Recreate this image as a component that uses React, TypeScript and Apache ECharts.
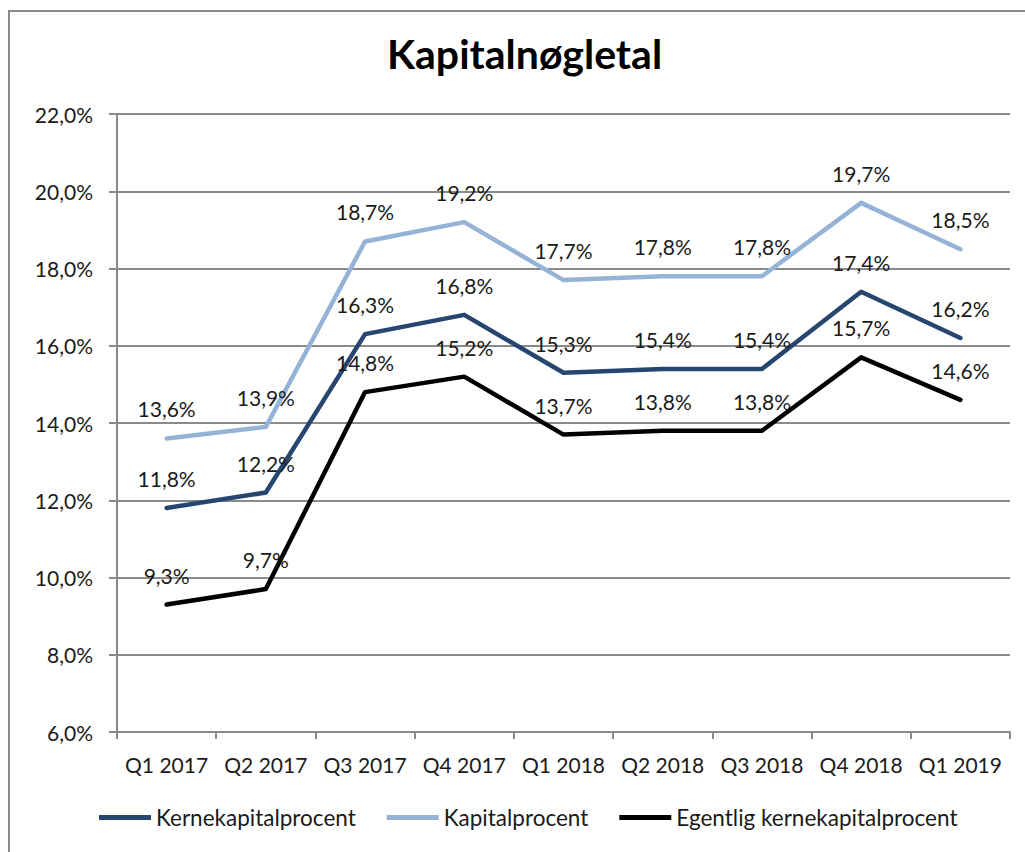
import React, { useEffect, useRef } from "react";
import * as echarts from "echarts";

const title = "Kapitalnøgletal";
const categories = ["Q1 2017", "Q2 2017", "Q3 2017", "Q4 2017", "Q1 2018", "Q2 2018", "Q3 2018", "Q4 2018", "Q1 2019"];
const kernekapital = [11.8, 12.2, 16.3, 16.8, 15.3, 15.4, 15.4, 17.4, 16.2];
const kapital = [13.6, 13.9, 18.7, 19.2, 17.7, 17.8, 17.8, 19.7, 18.5];
const egentlig = [9.3, 9.7, 14.8, 15.2, 13.7, 13.8, 13.8, 15.7, 14.6];
const seriesNames = ["Kernekapitalprocent", "Kapitalprocent", "Egentlig kernekapitalprocent"];
const seriesColors = ["#264670", "#95b3d7", "#000000"];
const yMin = 6;
const yMax = 22;
const yStep = 2;

const FONT = "Lato";
const fmt = (v: number) => v.toFixed(1).replace(".", ",") + "%";

export default function App() {
  const ref = useRef<HTMLDivElement>(null);
  useEffect(() => {
    if (!ref.current) return;
    const chart = echarts.init(ref.current, null, { renderer: "svg" });
    const datasets = [kernekapital, kapital, egentlig];
    chart.setOption({
      animation: false,
      backgroundColor: "#ffffff",
      textStyle: { fontFamily: FONT },
      title: {
        text: title,
        left: 387,
        top: 33,
        padding: 0,
        textStyle: { fontFamily: FONT, fontWeight: "bold", fontSize: 41, color: "#000" },
      },
      graphic: [
        {
          type: "rect",
          shape: { x: 9, y: 11, width: 1100, height: 900 },
          style: { fill: "none", stroke: "#8a8a8a", lineWidth: 2 },
          silent: true,
        },
      ],
      legend: {
        left: 99,
        top: 806,
        padding: 0,
        itemWidth: 52,
        itemHeight: 5,
        itemGap: 31,
        icon: "rect",
        textStyle: { fontFamily: FONT, fontSize: 22.5, color: "#1a1a1a" },
        data: seriesNames,
      },
      grid: { left: 117, right: 15, top: 114, bottom: 120, containLabel: false },
      xAxis: {
        type: "category",
        data: categories,
        boundaryGap: true,
        axisLine: { lineStyle: { color: "#8a8a8a", width: 2 } },
        axisTick: { show: true, length: 7, lineStyle: { color: "#8a8a8a", width: 2 } },
        axisLabel: { fontFamily: FONT, fontSize: 21, color: "#1a1a1a", margin: 22, interval: 0 },
      },
      yAxis: {
        type: "value",
        min: yMin,
        max: yMax,
        interval: yStep,
        axisLine: { show: true, lineStyle: { color: "#8a8a8a", width: 2 } },
        axisTick: { show: true, length: 8, lineStyle: { color: "#8a8a8a", width: 2 } },
        splitLine: { lineStyle: { color: "#8a8a8a", width: 2 } },
        axisLabel: { fontFamily: FONT, fontSize: 21, color: "#1a1a1a", margin: 24, formatter: (v: number) => fmt(v) },
      },
      series: seriesNames.map((name, i) => ({
        name,
        type: "line",
        data: datasets[i],
        symbol: "circle",
        symbolSize: 0,
        showSymbol: true,
        color: seriesColors[i],
        lineStyle: { color: seriesColors[i], width: 4.5, join: "round", cap: "round" },
        label: {
          show: true,
          position: "top",
          distance: 19,
          fontFamily: FONT,
          fontSize: 21,
          color: "#1a1a1a",
          formatter: (p: any) => fmt(p.value),
        },
        labelLayout: { hideOverlap: false },
        z: i === 1 ? 2 : 3,
      })),
    });
    return () => chart.dispose();
  }, []);
  return <div ref={ref} style={{ position: "fixed", left: 0, top: 0, width: 1025, height: 852 }} />;
}
